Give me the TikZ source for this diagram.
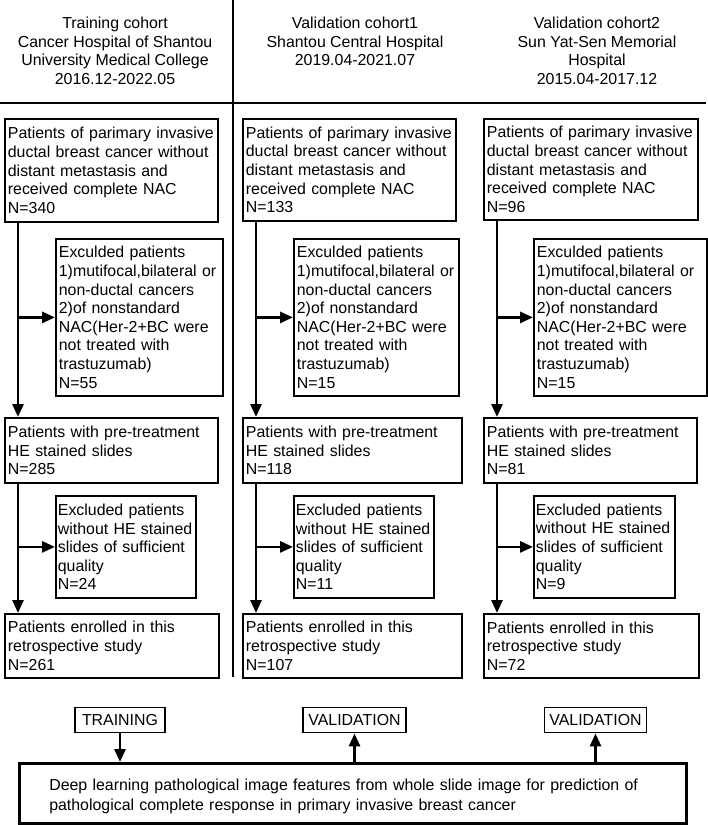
\documentclass[tikz,border=0pt]{standalone}
\usepackage{fontspec}
\setmainfont{Liberation Sans}
\usepackage{tikz}
\usetikzlibrary{arrows.meta,positioning}

\begin{document}
\begin{tikzpicture}[x=1pt, y=-1pt,
  font=\fontsize{15.9}{18.6}\selectfont,
  cbox/.style={draw, line width=1.8pt, anchor=north west, align=left, inner xsep=3pt, inner ysep=2pt},
  head/.style={anchor=north, align=center, inner sep=0pt},
  flow/.style={line width=2.8pt, -{Triangle[length=13pt,width=11pt]}},
  tag/.style={draw, line width=1.8pt, minimum height=25pt, inner xsep=5pt, inner ysep=0pt},
  rule/.style={line width=2.8pt}]
\useasboundingbox (0,0) rectangle (708,825);

% 見出し
\node[head] (tr-h) at (115,17) {Training cohort\\Cancer Hospital of Shantou\\University Medical College\\2016.12-2022.05};
\node[head] (va-h) at (355,17) {Validation cohort1\\Shantou Central Hospital\\2019.04-2021.07};
\node[head] (vb-h) at (597,17) {Validation cohort2\\Sun Yat-Sen Memorial\\Hospital\\2015.04-2017.12};

% 区切り線
\draw[rule] (0,103) -- (706,103);
\draw[rule] (233,0) -- (233,677);

% ノード(座標配置・Training)
\node[cbox, text width=207pt, minimum height=103pt] (tr-b1) at (4,118) {Patients of parimary invasive\\ductal breast cancer without\\distant metastasis and\\received complete NAC\\N=340};
\node[cbox, text width=161pt, minimum height=157pt] (tr-e1) at (55,238) {Exculded patients\\1)mutifocal,bilateral or\\non-ductal cancers\\2)of nonstandard\\NAC(Her-2+BC were\\not treated with\\trastuzumab)\\N=55};
\node[cbox, text width=207pt, minimum height=65pt] (tr-b2) at (4,417) {Patients with pre-treatment\\HE stained slides\\N=285};
\node[cbox, text width=136pt, inner xsep=2pt, minimum height=102pt] (tr-e2) at (55,495) {Excluded patients\\without HE stained\\slides of sufficient\\quality\\N=24};
\node[cbox, text width=208pt, minimum height=64pt] (tr-b3) at (4,613) {Patients enrolled in this\\retrospective study\\N=261};

% ノード(Validation 1)
\node[cbox, text width=207pt, minimum height=102pt] (va-b1) at (242,118) {Patients of parimary invasive\\ductal breast cancer without\\distant metastasis and\\received complete NAC\\N=133};
\node[cbox, text width=159pt, minimum height=157pt] (va-e1) at (293,238) {Exculded patients\\1)mutifocal,bilateral or\\non-ductal cancers\\2)of nonstandard\\NAC(Her-2+BC were\\not treated with\\trastuzumab)\\N=15};
\node[cbox, text width=213pt, minimum height=65pt] (va-b2) at (242,417) {Patients with pre-treatment\\HE stained slides\\N=118};
\node[cbox, text width=136pt, inner xsep=2pt, minimum height=102pt] (va-e2) at (293,495) {Excluded patients\\without HE stained\\slides of sufficient\\quality\\N=11};
\node[cbox, text width=213pt, minimum height=64pt] (va-b3) at (242,613) {Patients enrolled in this\\retrospective study\\N=107};

% ノード(Validation 2)
\node[cbox, text width=208pt, minimum height=101pt] (vb-b1) at (483,118) {Patients of parimary invasive\\ductal breast cancer without\\distant metastasis and\\received complete NAC\\N=96};
\node[cbox, text width=167pt, minimum height=157pt] (vb-e1) at (533,238) {Exculded patients\\1)mutifocal,bilateral or\\non-ductal cancers\\2)of nonstandard\\NAC(Her-2+BC were\\not treated with\\trastuzumab)\\N=15};
\node[cbox, text width=207pt, minimum height=65pt] (vb-b2) at (483,417) {Patients with pre-treatment\\HE stained slides\\N=81};
\node[cbox, text width=137pt, inner xsep=2pt, minimum height=102pt] (vb-e2) at (533,495) {Excluded patients\\without HE stained\\slides of sufficient\\quality\\N=9};
\node[cbox, text width=209pt, minimum height=64pt] (vb-b3) at (483,613) {Patients enrolled in this\\retrospective study\\N=72};

% 矢印(縦の幹と除外への枝)
\foreach \c in {tr,va,vb} {
  \coordinate (\c-t1) at ([xshift=14pt]\c-b1.south west);
  \coordinate (\c-t2) at ([xshift=14pt]\c-b2.south west);
  \draw[flow] (\c-t1) -- (\c-t1 |- \c-b2.north);
  \draw[flow] (\c-t1 |- \c-e1.west) -- (\c-e1.west);
  \draw[flow] (\c-t2) -- (\c-t2 |- \c-b3.north);
  \draw[flow] (\c-t2 |- \c-e2.west) -- (\c-e2.west);
}

% 下段
\node[tag, minimum width=90pt] (tr-tag) at (120,720) {TRAINING};
\node[tag, minimum width=103pt] (va-tag) at (354.5,720) {VALIDATION};
\node[tag, minimum width=101pt] (vb-tag) at (595.5,720) {VALIDATION};
\node[draw, line width=2.6pt, anchor=north west, align=left, minimum width=667pt, minimum height=60pt, text width=607pt, inner xsep=30pt, font=\fontsize{15.9}{20}\selectfont] (dl) at (18,762) {\rule{0pt}{17pt}Deep learning pathological image features from whole slide image for prediction of\\pathological complete response in primary invasive breast cancer};

\draw[flow] (tr-tag) -- (tr-tag |- dl.north);
\draw[flow] (va-tag |- dl.north) -- (va-tag);
\draw[flow] (vb-tag |- dl.north) -- (vb-tag);
\end{tikzpicture}
\end{document}
